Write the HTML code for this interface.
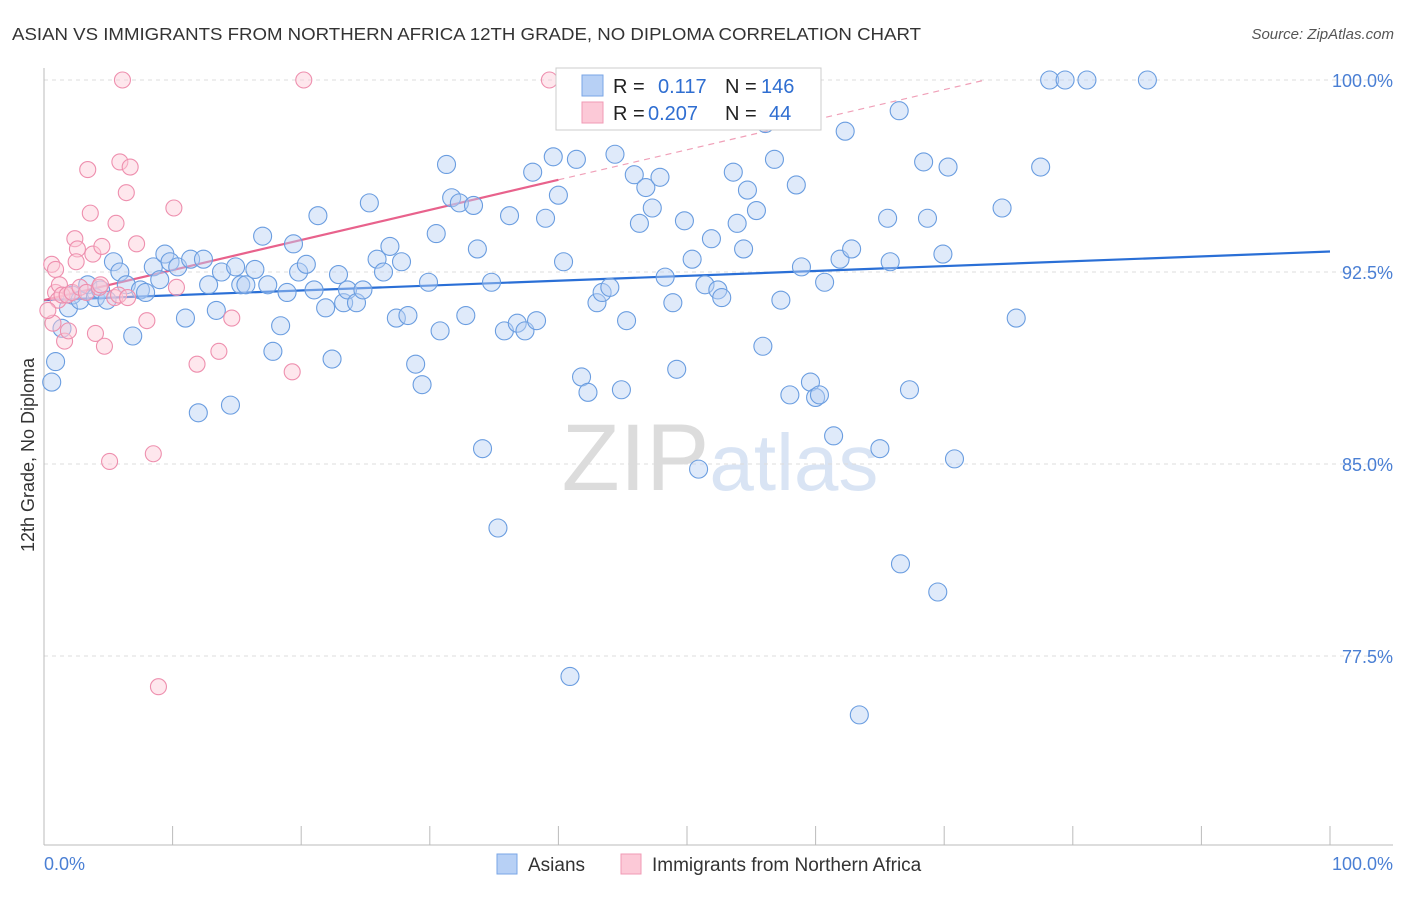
<!DOCTYPE html>
<html><head><meta charset="utf-8"><style>
body{margin:0;background:#fff;font-family:"Liberation Sans",sans-serif}
svg text{font-family:"Liberation Sans",sans-serif}
</style></head><body>
<svg id="chart" width="1406" height="892" xmlns="http://www.w3.org/2000/svg">
<text x="12" y="40" font-size="17.5" fill="#333" textLength="909" lengthAdjust="spacingAndGlyphs">ASIAN VS IMMIGRANTS FROM NORTHERN AFRICA 12TH GRADE, NO DIPLOMA CORRELATION CHART</text>
<text x="1394" y="39" font-size="15" fill="#555" font-style="italic" text-anchor="end">Source: ZipAtlas.com</text>
<text x="720" y="490" font-size="95" fill="#e4e4e4" text-anchor="middle" font-family="Liberation Serif"><tspan fill="#dcdcdc">ZIP</tspan><tspan fill="#d9e4f4" font-family="Liberation Sans" font-size="80">atlas</tspan></text>
<text transform="translate(34,455) rotate(-90)" font-size="18" fill="#333" text-anchor="middle">12th Grade, No Diploma</text>
<g id="grid"></g>
<g id="axes"></g>
<g id="trends"></g>
<g id="points"></g>
<g>
<rect x="556" y="68" width="265" height="62" fill="#fff" stroke="#ccc"/>
<rect x="582" y="75" width="21" height="21" fill="#b7d0f5" stroke="#7aa6e6"/>
<rect x="582" y="102" width="21" height="21" fill="#fcc9d7" stroke="#f09ab4"/>
<text x="613" y="93" font-size="20" fill="#222">R =</text>
<text x="658" y="93" font-size="20" fill="#2f6ed1">0.117</text>
<text x="725" y="93" font-size="20" fill="#222">N =</text>
<text x="761" y="93" font-size="20" fill="#2f6ed1">146</text>
<text x="613" y="120" font-size="20" fill="#222">R =</text>
<text x="648" y="120" font-size="20" fill="#2f6ed1">0.207</text>
<text x="725" y="120" font-size="20" fill="#222">N =</text>
<text x="769" y="120" font-size="20" fill="#2f6ed1">44</text>
</g>
<g>
<rect x="497" y="854" width="20" height="20" fill="#b7d0f5" stroke="#7aa6e6"/>
<text x="528" y="871" font-size="19" fill="#333">Asians</text>
<rect x="621" y="854" width="20" height="20" fill="#fcc9d7" stroke="#f09ab4"/>
<text x="652" y="871" font-size="19" fill="#333">Immigrants from Northern Africa</text>
</g>
<text x="44" y="870" font-size="18" fill="#4a7fd4">0.0%</text>
<text x="1393" y="870" font-size="18" fill="#4a7fd4" text-anchor="end">100.0%</text>
</svg>
<script>
const yTicks=[100,92.5,85,77.5];
const yTickLabels=["100.0%","92.5%","85.0%","77.5%"];
const blueX=[0.6,0.9,1.4,1.9,2.2,2.8,3.4,4.0,4.4,4.9,5.4,5.9,6.4,6.9,7.5,7.9,8.5,9.0,9.4,9.8,10.4,11.0,11.4,12.0,12.4,12.8,13.4,13.8,14.5,14.9,15.3,15.7,16.4,17.0,17.4,17.8,18.4,18.9,19.4,19.8,20.4,21.0,21.3,21.9,22.4,22.9,23.3,23.6,24.3,24.8,25.3,25.9,26.4,26.9,27.4,27.8,28.3,28.9,29.4,29.9,30.5,30.8,31.3,31.7,32.3,32.8,33.4,33.7,34.1,34.8,35.3,35.8,36.2,36.8,37.4,38.0,38.3,39.0,39.6,40.0,40.4,40.9,41.4,41.8,42.3,43.0,43.4,44.0,44.4,44.9,45.3,45.9,46.3,46.8,47.3,47.9,48.3,48.9,49.2,49.8,50.4,50.9,51.4,51.9,52.4,52.7,53.6,53.9,54.4,54.7,55.4,55.9,56.1,56.8,57.3,58.0,58.5,58.9,59.6,60.0,60.3,60.7,61.4,61.9,62.3,62.8,63.4,65.0,65.6,65.8,66.5,66.6,67.3,68.4,68.7,69.5,69.9,70.3,70.8,74.5,75.6,77.5,78.2,79.4,81.1,85.8];
const blueY=[88.2,89.0,90.3,91.1,91.6,91.4,92.0,91.5,91.8,91.4,92.9,92.5,92.0,90.0,91.8,91.7,92.7,92.2,93.2,92.9,92.7,90.7,93.0,87.0,93.0,92.0,91.0,92.5,87.3,92.7,92.0,92.0,92.6,93.9,92.0,89.4,90.4,91.7,93.6,92.5,92.8,91.8,94.7,91.1,89.1,92.4,91.3,91.8,91.3,91.8,95.2,93.0,92.5,93.5,90.7,92.9,90.8,88.9,88.1,92.1,94.0,90.2,96.7,95.4,95.2,90.8,95.1,93.4,85.6,92.1,82.5,90.2,94.7,90.5,90.2,96.4,90.6,94.6,97.0,95.5,92.9,76.7,96.9,88.4,87.8,91.3,91.7,91.9,97.1,87.9,90.6,96.3,94.4,95.8,95.0,96.2,92.3,91.3,88.7,94.5,93.0,84.8,92.0,93.8,91.8,91.5,96.4,94.4,93.4,95.7,94.9,89.6,98.3,96.9,91.4,87.7,95.9,92.7,88.2,87.6,87.7,92.1,86.1,93.0,98.0,93.4,75.2,85.6,94.6,92.9,98.8,81.1,87.9,96.8,94.6,80.0,93.2,96.6,85.2,95.0,90.7,96.6,100,100,100,100];
const pinkX=[0.6,0.9,0.9,1.1,1.2,1.4,1.8,0.7,0.3,1.6,1.9,2.2,2.4,2.6,2.5,2.8,3.3,3.4,3.6,3.8,4.0,4.3,4.4,4.5,4.7,5.1,5.5,5.6,5.8,5.9,6.1,6.4,6.7,6.5,7.2,8.0,8.5,8.9,10.1,10.3,11.9,13.6,14.6,19.3,20.2,39.3];
const pinkY=[92.8,91.7,92.6,91.4,92.0,91.6,91.6,90.5,91.0,89.8,90.2,91.7,93.8,93.4,92.9,91.9,91.7,96.5,94.8,93.2,90.1,91.9,92.0,93.5,89.6,85.1,91.5,94.4,91.6,96.8,100,95.6,96.6,91.5,93.6,90.6,85.4,76.3,95.0,91.9,88.9,89.4,90.7,88.6,100,100];
const blueTrend=[91.4,0.019];
const pinkTrend=[91.4,0.1175];
const X0=44,X1=1330,Y100=80,PXPER=25.6;
const sx=v=>X0+(X1-X0)*v/100;
const sy=v=>Y100+(100-v)*PXPER;
const NS="http://www.w3.org/2000/svg";
function mk(tag,attrs,parent){const e=document.createElementNS(NS,tag);for(const k in attrs)e.setAttribute(k,attrs[k]);parent.appendChild(e);return e;}
const grid=document.getElementById('grid'),axes=document.getElementById('axes'),trends=document.getElementById('trends'),pts=document.getElementById('points');
yTicks.forEach((t,i)=>{
 const l=mk('line',{x1:X0,x2:1393,y1:sy(t),y2:sy(t),stroke:'#ddd','stroke-dasharray':'4,4'},grid);
 
 
 const tx=mk('text',{x:1393,y:sy(t)+7,'font-size':18,fill:'#4a7fd4','text-anchor':'end'},grid);
 tx.textContent=yTickLabels[i];
 
 
});
const xa=mk('line',{x1:X0,x2:1393,y1:845,y2:845,stroke:'#bbb'},axes);


const ya=mk('line',{x1:X0,x2:X0,y1:68,y2:845,stroke:'#bbb'},axes);


for(let i=0;i<=10;i++){const t=mk('line',{x1:sx(i*10),x2:sx(i*10),y1:826,y2:845,stroke:'#bbb'},axes);
 
 }
function drawPts(xs,ys,fill,stroke,r,name){xs.forEach((x,i)=>{
 const c=mk('circle',{cx:sx(x),cy:sy(ys[i]),r:r,fill:fill,'fill-opacity':0.45,stroke:stroke,'stroke-width':1.1},pts);
 
 });}
drawPts(blueX,blueY,'#b7d0f5','#6a9de0',9,'asian-point');
drawPts(pinkX,pinkY,'#fcc9d7','#ee8fae',8,'immigrant-point');
const bt=mk('line',{x1:sx(0),y1:sy(blueTrend[0]),x2:sx(100),y2:sy(blueTrend[0]+blueTrend[1]*100),stroke:'#2a6fd6','stroke-width':2.2},trends);


const pEnd=(100-pinkTrend[0])/pinkTrend[1];
const pd=mk('line',{x1:sx(40),y1:sy(pinkTrend[0]+pinkTrend[1]*40),x2:sx(pEnd),y2:sy(100),stroke:'#f0a0b8','stroke-width':1.2,'stroke-dasharray':'6,5'},trends);


const pt=mk('line',{x1:sx(0),y1:sy(pinkTrend[0]),x2:sx(40),y2:sy(pinkTrend[0]+pinkTrend[1]*40),stroke:'#e8628c','stroke-width':2.2},trends);


</script>
</body></html>
